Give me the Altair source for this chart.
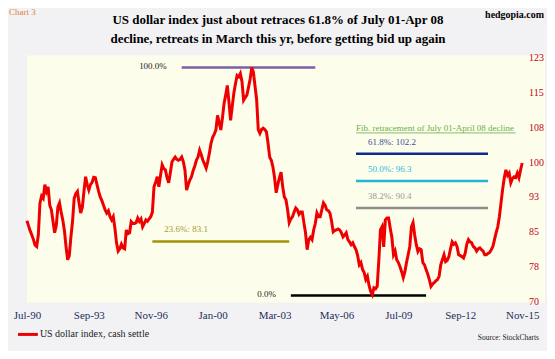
import altair as alt
import pandas as pd

# ---------------- data ----------------
months = pd.date_range("1990-07-01", "2015-11-01", freq="MS")

usd = (
    [87.6, 86.5, 85.4, 84.5, 83.5, 82.3]
    + [82.0, 84.5, 91.5, 93.0, 92.5, 95.5, 94.0, 95.0, 91.0, 90.0, 87.5, 85.0]
    + [86.5, 90.6, 91.5, 89.5, 87.8, 85.5, 82.0, 79.1, 80.0, 84.1, 87.5, 92.5]
    + [93.5, 94.0, 91.5, 89.3, 90.5, 94.0, 97.2, 95.5, 94.3, 95.5, 96.0, 97.1]
    + [97.0, 95.5, 94.0, 92.8, 92.0, 91.0, 90.0, 89.3, 89.8, 88.5, 87.8, 88.5]
    + [86.0, 82.8, 81.0, 81.5, 82.5, 81.7, 81.5, 85.6, 84.8, 85.0, 87.4, 87.0]
    + [87.0, 87.2, 88.2, 87.5, 88.0, 86.3, 87.0, 87.8, 87.5, 88.0, 88.5, 89.5]
    + [95.0, 96.0, 97.2, 95.0, 97.5, 99.8, 99.0, 98.7, 97.0, 95.9, 98.0, 100.4]
    + [101.0, 101.5, 101.0, 100.8, 101.0, 101.5, 100.5, 98.7, 94.3, 95.5, 96.5, 97.2]
    + [98.5, 99.5, 100.8, 101.5, 103.0, 102.0, 100.8, 100.0, 99.1, 100.5, 102.4, 104.5]
    + [105.8, 106.5, 107.4, 110.6, 109.0, 107.4, 110.0, 113.2, 115.0, 117.1, 113.5, 109.5]
    + [112.5, 115.4, 117.5, 119.3, 119.0, 119.7, 118.0, 113.9, 114.5, 115.0, 116.7, 118.5]
    + [121.0, 120.0, 117.0, 114.0, 107.5, 106.7, 107.5, 107.8, 107.5, 107.0, 104.5, 101.5]
    + [100.8, 99.3, 97.0, 93.7, 95.5, 97.0, 98.2, 95.0, 92.8, 92.2, 90.0, 87.2]
    + [88.0, 88.5, 89.5, 90.4, 90.0, 89.0, 89.5, 89.5, 87.2, 85.0, 81.3, 83.5]
    + [84.0, 83.5, 85.6, 87.0, 89.3, 88.5, 88.5, 90.0, 91.5, 91.0, 90.0, 89.8]
    + [89.3, 87.5, 85.2, 85.5, 85.6, 85.8, 85.6, 85.0, 84.1, 84.5, 85.0, 83.5]
    + [83.0, 82.4, 82.8, 82.0, 81.3, 80.0, 78.0, 78.5, 77.0, 76.3, 74.8, 75.5]
    + [73.5, 72.2, 71.5, 73.0, 72.8, 73.3, 79.0, 85.6, 86.3, 81.9, 87.8, 88.2]
    + [88.2, 86.0, 84.0, 80.2, 81.0, 79.1, 78.5, 77.6, 76.5, 75.2, 76.5, 78.5]
    + [80.2, 82.0, 86.3, 87.2, 84.5, 82.4, 80.9, 81.5, 81.3, 78.5, 78.0, 77.0]
    + [76.0, 74.8, 73.3, 73.8, 74.1, 74.5, 74.8, 75.5, 78.0, 79.1, 80.2, 78.7]
    + [79.0, 79.8, 81.5, 83.0, 82.5, 82.8, 82.0, 80.2, 80.0, 79.8, 79.5, 80.5]
    + [82.5, 83.5, 83.0, 82.8, 82.0, 81.7, 81.0, 81.5, 81.7, 81.3, 81.0, 80.2]
    + [80.2, 80.5, 80.7, 81.3, 82.0, 83.5, 85.0, 86.3, 88.5, 91.5, 94.5, 97.0]
    + [98.7, 97.5, 98.0, 95.9, 96.8, 97.2, 97.0, 98.0, 97.0, 98.7, 100.2]
)

x_tick_labels = ["Jul-90", "Sep-93", "Nov-96", "Jan-00", "Mar-03",
                 "May-06", "Jul-09", "Sep-12", "Nov-15"]
x_tick_step = 38  # months between labels
y_tick_values = [70, 77.57, 85.14, 92.71, 100.29, 107.86, 115.43, 123]
y_tick_labels = ["70", "78", "85", "93", "100", "108", "115", "123"]

fib_labels = ["100.0%", "61.8%: 102.2", "50.0%: 96.3", "38.2%: 90.4",
              "23.6%: 83.1", "0.0%"]
fib_values = [121.0, 102.2, 96.3, 90.4, 83.1, 71.3]
fib_start = ["1998-06", "2007-05", "2007-05", "2007-05", "1996-12", "2004-01"]
fib_end = ["2005-04", "2014-02", "2014-02", "2014-02", "2003-12", "2010-12"]
fib_line_colors = ["#7B5FA3", "#0D2B8C", "#22B5D6", "#8C8C8C", "#A39309", "#000000"]
fib_text_colors = ["#222222", "#3A4F8F", "#2CB8D8", "#9A9A9A", "#A39A30", "#222222"]
fib_note = "Fib. retracement of July 01-April 08 decline"
fib_note_end = "2015-07"


def month_index(ym):
    y, m = ym.split("-")
    return (int(y) - 1990) * 12 + int(m) - 7


df = pd.DataFrame({"m": range(len(months)), "usd": usd})
ytick_df = pd.DataFrame({"v": y_tick_values, "lab": y_tick_labels})

fib = pd.DataFrame({
    "label": fib_labels,
    "value": fib_values,
    "start": [month_index(s) for s in fib_start],
    "end": [month_index(s) for s in fib_end],
    "lc": fib_line_colors,
    "tc": fib_text_colors,
})
fib_left = fib[fib["label"].isin(["100.0%", "0.0%"])]
fib_above = fib[~fib["label"].isin(["100.0%", "0.0%"])]
note_df = pd.DataFrame({
    "t": [fib_note],
    "start": [month_index(fib_start[1])],
    "end": [month_index(fib_note_end)],
    "value": [fib_values[1]],
})

SERIF = "Liberation Serif"
W, H = 520, 248

xscale = alt.Scale(domain=[0, 318], nice=False, zero=False)
yscale = alt.Scale(domain=[69.78, 123.65], nice=False, zero=False)

label_expr = "[" + ",".join("'%s'" % s for s in x_tick_labels) + "][round(datum.value/%d)]" % x_tick_step

line = alt.Chart(df).mark_line(color="#EE0000", strokeWidth=3).encode(
    x=alt.X("m:Q", scale=xscale, title=None,
            axis=alt.Axis(values=[i * x_tick_step for i in range(len(x_tick_labels))],
                          labelExpr=label_expr, domain=False, ticks=False, grid=False,
                          labelFont=SERIF, labelFontSize=11, labelColor="#1F2D5C",
                          labelPadding=7, labelFlush=False, labelOverlap=False)),
    y=alt.Y("usd:Q", scale=yscale, title=None, axis=None),
)

ylabels = alt.Chart(ytick_df).mark_text(
    align="left", baseline="middle", font=SERIF, fontSize=10, color="#C00020"
).encode(x=alt.value(504), y=alt.Y("v:Q", title=None), text="lab:N")

rules = alt.Chart(fib).mark_rule(strokeWidth=2.5).encode(
    x=alt.X("start:Q", title=None), x2="end:Q",
    y=alt.Y("value:Q", title=None),
    color=alt.Color("lc:N", scale=None),
)

left_text = alt.Chart(fib_left).mark_text(
    align="right", baseline="middle", dx=-15, dy=-2, font=SERIF, fontSize=9
).encode(
    x=alt.X("start:Q", title=None), y=alt.Y("value:Q", title=None),
    text="label:N", color=alt.Color("tc:N", scale=None),
)

above_text = alt.Chart(fib_above).mark_text(
    align="left", baseline="middle", dx=12, dy=-12, font=SERIF, fontSize=9
).encode(
    x=alt.X("start:Q", title=None), y=alt.Y("value:Q", title=None),
    text="label:N", color=alt.Color("tc:N", scale=None),
)

note_text = alt.Chart(note_df).mark_text(
    align="left", baseline="middle", dy=-26, font=SERIF, fontSize=9, color="#6AAE45"
).encode(
    x=alt.X("start:Q", title=None), y=alt.Y("value:Q", title=None), text="t:N",
)
note_line = alt.Chart(note_df).mark_rule(color="#6AAE45", strokeWidth=0.8, yOffset=-21).encode(
    x=alt.X("start:Q", title=None), x2="end:Q", y=alt.Y("value:Q", title=None),
)


def note(text, x, y, **kw):
    return alt.Chart(pd.DataFrame({"t": [text]})).mark_text(**kw).encode(
        x=alt.value(x), y=alt.value(y), text="t:N")


title1 = note("US dollar index just about retraces  61.8% of July 01-Apr 08", 252, -36,
              font=SERIF, fontSize=13, fontWeight="bold", align="center", baseline="middle",
              color="#000000")
title2 = note("decline, retreats in March this yr, before getting bid up again", 252, -17,
              font=SERIF, fontSize=13, fontWeight="bold", align="center", baseline="middle",
              color="#000000")
chart_no = note("Chart 3", -18, -44, font=SERIF, fontSize=9, align="left",
                baseline="middle", color="#E08040")
site = note("hedgopia.com", 519, -41, font=SERIF, fontSize=10, fontWeight="bold",
            align="right", baseline="middle", color="#000000")
legend_text = note("US dollar index, cash settle", 13, 280, font=SERIF, fontSize=10,
                   align="left", baseline="middle", color="#1A1A1A")
source = note("Source: StockCharts", 514, 284, font=SERIF, fontSize=7.5, align="right",
              baseline="middle", color="#1A1A1A")
legend_line = alt.Chart(pd.DataFrame({"t": [0]})).mark_rule(
    color="#EE0000", strokeWidth=3).encode(
    x=alt.value(-9), x2=alt.value(11), y=alt.value(280))

chart = alt.layer(
    rules, line, ylabels, left_text, above_text, note_text, note_line,
    title1, title2, chart_no, site, legend_line, legend_text, source,
).properties(
    width=W, height=H,
    background="#F2F2F4",
    padding={"left": 19, "top": 47, "right": 2, "bottom": 48},
    autosize=alt.AutoSizeParams(type="none"),
).configure_view(stroke=None, fill="#FDFDEC").configure_axisY(disable=True)

chart.save("out.html", embed_options={"renderer": "svg", "actions": False})
